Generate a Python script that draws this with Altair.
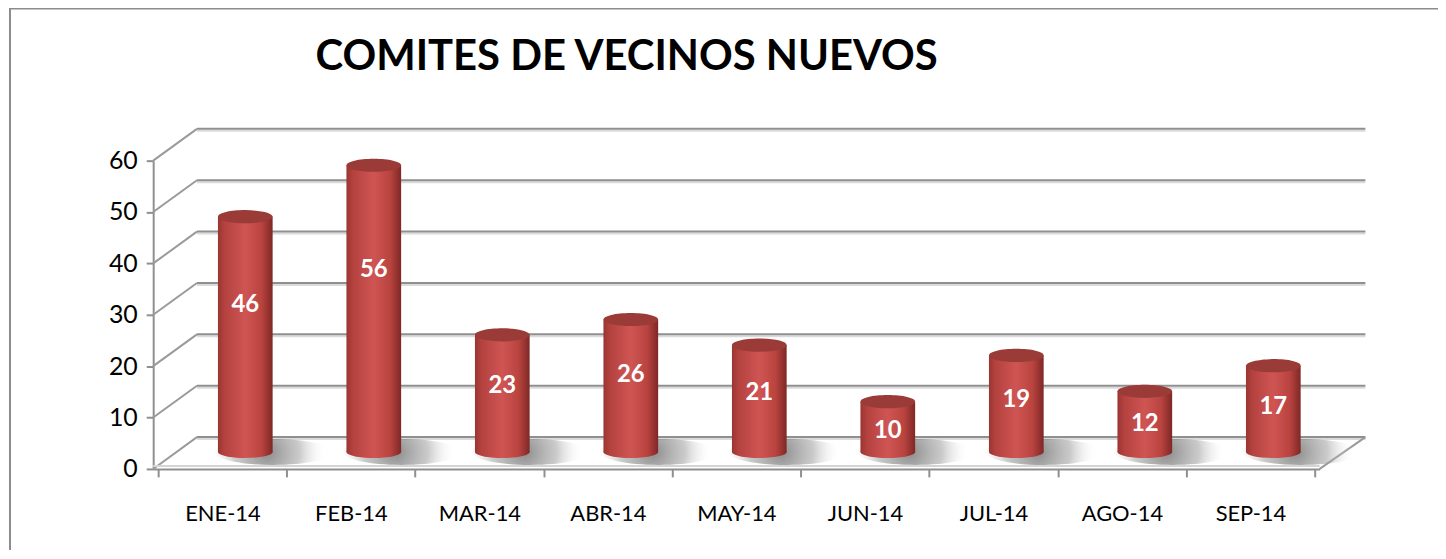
import json
import altair as alt
import pandas as pd

meses = ["ENE-14", "FEB-14", "MAR-14", "ABR-14", "MAY-14", "JUN-14", "JUL-14", "AGO-14", "SEP-14"]
valores = [46, 56, 23, 26, 21, 10, 19, 12, 17]
y_ticks = [0, 10, 20, 30, 40, 50, 60]
titulo = "COMITES DE VECINOS NUEVOS"

W, H = 1173, 310
DX, DY = 44, -32          # depth of the 3D box
CX, CY = 23, -16          # cylinders sit mid-depth
FONT = "Lato"
GRAY = "#8f8f8f"

df = pd.DataFrame({"mes": meses, "valor": valores})
df["pos"] = [i + 0.5 for i in range(len(meses))]
df["zero"] = 0
grid_df = pd.DataFrame({"t": y_ticks})
one = pd.DataFrame({"z": [0]})
title_df = pd.DataFrame({"txt": [titulo]})

xs = alt.Scale(domain=[0, len(meses)], nice=False, zero=False)
ys = alt.Scale(domain=[0, 60], nice=False)

label_expr = json.dumps(meses) + "[floor(datum.value)]"

ellipse_top = "M-1,0A1,0.24,0,1,0,1,0A1,0.24,0,1,0,-1,0Z"
ellipse_bot = "M-1,0A1,0.22,0,1,0,1,0A1,0.22,0,1,0,-1,0Z"
ellipse_sh = "M-1,0A1,0.22,0,1,0,1,0A1,0.22,0,1,0,-1,0Z"

body_grad = alt.LinearGradient(
    gradient="linear", x1=0, x2=1, y1=0, y2=0,
    stops=[
        alt.GradientStop(offset=0, color="#9a3532"),
        alt.GradientStop(offset=0.12, color="#b4423f"),
        alt.GradientStop(offset=0.5, color="#cf5553"),
        alt.GradientStop(offset=0.8, color="#b9433f"),
        alt.GradientStop(offset=1, color="#7e2826"),
    ],
)
shadow_grad = alt.RadialGradient(
    gradient="radial", x1=0.45, y1=0.5, x2=0.45, y2=0.5, r1=0, r2=0.5,
    stops=[
        alt.GradientStop(offset=0, color="rgba(110,110,110,0.8)"),
        alt.GradientStop(offset=0.55, color="rgba(150,150,150,0.5)"),
        alt.GradientStop(offset=1, color="rgba(255,255,255,0)"),
    ],
)

xq = alt.X("pos:Q", scale=xs, axis=None)

# outer frame
frame = alt.Chart(one).mark_rect(fill="transparent", stroke="#8c8c8c", strokeWidth=2).encode(
    x=alt.value(-144), x2=alt.value(W + 140), y=alt.value(-153), y2=alt.value(H + 100)
)

# chart title
title = alt.Chart(title_df).mark_text(
    font=FONT, fontSize=42, fontWeight="bold", color="#000000",
    align="center", baseline="alphabetic"
).encode(x=alt.value(476), y=alt.value(-91), text="txt:N")

# back-wall gridlines (light shadow line + dark line)
grid_light = alt.Chart(grid_df).mark_rule(color="#dadada", strokeWidth=2, yOffset=DY + 2).encode(
    y=alt.Y("t:Q", scale=ys, axis=None), x=alt.value(DX), x2=alt.value(W + DX + 2)
)
grid_dark = alt.Chart(grid_df).mark_rule(color=GRAY, strokeWidth=2, yOffset=DY).encode(
    y=alt.Y("t:Q", scale=ys, axis=None), x=alt.value(DX), x2=alt.value(W + DX + 2)
)
# side wall diagonals
diag = alt.Chart(grid_df).mark_rule(color="#9a9a9a", strokeWidth=2, y2Offset=DY).encode(
    y=alt.Y("t:Q", scale=ys, axis=None), y2="t:Q", x=alt.value(0), x2=alt.value(DX)
)
# floor right edge
floor_edge = alt.Chart(one).mark_rule(color="#9a9a9a", strokeWidth=2, y2Offset=DY).encode(
    y=alt.Y("z:Q", scale=ys, axis=None), y2="z:Q", x=alt.value(W), x2=alt.value(W + DX + 2)
)
floor_front = alt.Chart(one).mark_rule(color="#d4d4d4", strokeWidth=2, yOffset=-3).encode(
    y=alt.Y("z:Q", scale=ys, axis=None), x=alt.value(0), x2=alt.value(W)
)

# shadows on the floor
shadow = alt.Chart(df).mark_point(
    shape=ellipse_sh, filled=True, fill=shadow_grad, opacity=1, strokeWidth=0,
    size=14000, xOffset=CX + 28, yOffset=CY - 1
).encode(
    x=xq, y=alt.Y("zero:Q", scale=ys, axis=None)
)

# cylinder bottom cap
bottom = alt.Chart(df).mark_point(
    shape=ellipse_bot, filled=True, fill=body_grad, opacity=1, strokeWidth=0,
    size=3025, xOffset=CX, yOffset=CY - 1
).encode(
    x=xq, y=alt.Y("zero:Q", scale=ys, axis=None)
)

# cylinder body
body = alt.Chart(df).mark_bar(
    fill=body_grad, size=55, xOffset=CX, yOffset=CY, y2Offset=CY - 1
).encode(
    x=alt.X("pos:Q", scale=xs,
            axis=alt.Axis(values=list(range(len(meses) + 1)), labels=False, ticks=True,
                          tickSize=8, tickColor=GRAY, tickWidth=2, domainColor=GRAY,
                          domainWidth=2, grid=False, title=None, orient="bottom")),
    y=alt.Y("valor:Q", scale=ys,
            axis=alt.Axis(values=y_ticks, grid=False, title=None, tickSize=7, tickColor=GRAY,
                          tickWidth=2, domainColor=GRAY, domainWidth=2, labelFont=FONT,
                          labelFontSize=25, labelFontWeight="normal", labelColor="#000000",
                          labelPadding=9, orient="left")),
    y2="zero:Q",
)

# cylinder top cap
top = alt.Chart(df).mark_point(
    shape=ellipse_top, filled=True, fill="#9a3b38", opacity=1, strokeWidth=0,
    size=3025, xOffset=CX, yOffset=CY
).encode(
    x=xq, y=alt.Y("valor:Q", scale=ys, axis=None)
)

# value labels
labels = alt.Chart(df).transform_calculate(
    lab="datum.valor * 0.68"
).mark_text(
    font=FONT, fontSize=24, fontWeight="bold", color="white", baseline="middle",
    align="center", xOffset=CX, yOffset=-3
).encode(
    x=alt.X("pos:Q", scale=xs,
            axis=alt.Axis(values=[i + 0.5 for i in range(len(meses))], labelExpr=label_expr,
                          ticks=False, tickSize=0, domain=False, grid=False, title=None,
                          labelFont=FONT, labelFontSize=22, labelFontWeight="normal",
                          labelColor="#000000", labelPadding=35, orient="bottom")),
    y=alt.Y("lab:Q", scale=ys, axis=None),
    text="valor:Q",
)

chart = alt.layer(
    frame, title, grid_light, grid_dark, diag, floor_front, floor_edge, shadow, bottom, body, top, labels
).resolve_axis(x="independent", y="independent").properties(
    width=W, height=H,
    autosize=alt.AutoSizeParams(type="none"),
    padding={"left": 146, "top": 152, "right": 119, "bottom": 80},
    background="white",
).configure_view(stroke=None)

chart.save("out.html", embed_options={"renderer": "svg", "actions": False})
